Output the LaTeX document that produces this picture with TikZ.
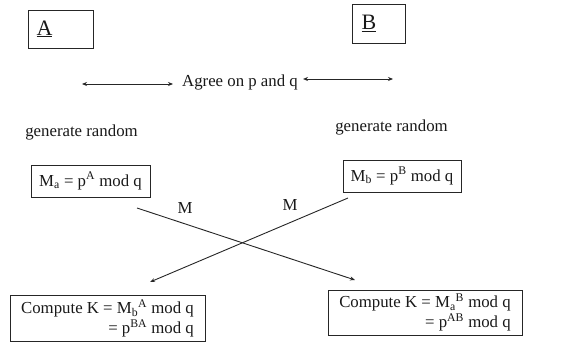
\documentclass[tikz,border=0pt]{standalone}
\usepackage{fontspec}
\setmainfont{Liberation Serif}
\usetikzlibrary{arrows.meta}
\tikzset{
  txt/.style={inner sep=0pt, font=\fontsize{16.8}{19.5}\selectfont, text=black!90},
  boxed/.style={txt, draw=black!85, line width=0.9pt, inner sep=4pt},
  party/.style={boxed, font=\fontsize{22}{24}\selectfont},
  link/.style={draw=black!85, line width=0.9pt},
  tip/.style={-{Stealth[length=5pt,width=4pt]}},
  tips/.style={{Stealth[length=5pt,width=4pt]}-{Stealth[length=5pt,width=4pt]}}
}
\begin{document}
\begin{tikzpicture}[x=1pt,y=-1pt]
  \useasboundingbox[fill=white] (0,0) rectangle (564,350);

  % the two parties
  \node[party, minimum width=65pt, minimum height=38pt] (A) at (60.5,29) {\underline{A}\hspace*{32pt}};
  \node[party, minimum width=53pt, minimum height=39pt] (B) at (378.5,23.5) {\underline{B}\hspace*{19pt}};

  % public parameters
  \node[txt] (agree) at (240,82) {Agree on p and q};
  \coordinate (agreeL1) at (82,84);
  \coordinate (agreeL2) at (173,84);
  \coordinate (agreeR1) at (303,79);
  \coordinate (agreeR2) at (393,79);
  \draw[link, tips] (agreeL1) -- (agreeL2);
  \draw[link, tips] (agreeR1) -- (agreeR2);

  % private values
  \node[txt] (genA) at (81.5,132) {generate random};
  \node[txt] (genB) at (391.5,127) {generate random};

  \node[boxed, minimum width=119pt, minimum height=32pt] (Ma) at (90.5,181)
    {M\textsubscript{a} = p\textsuperscript{A} mod q};
  \node[boxed, minimum width=118pt, minimum height=32pt] (Mb) at (402,176)
    {M\textsubscript{b} = p\textsuperscript{B} mod q};

  % exchanged messages
  \coordinate (sendA) at (137,208);
  \coordinate (recvB) at (355,280);
  \coordinate (sendB) at (348,198);
  \coordinate (recvA) at (150,282);
  \draw[link, tip] (sendA) -- (recvB);
  \draw[link, tip] (sendB) -- (recvA);
  \node[txt] (mA) at (185,208) {M};
  \node[txt] (mB) at (290,205) {M};

  % shared key
  \node[boxed, minimum width=195pt, minimum height=43pt, align=right] (KA) at (107.5,318.5)
    {Compute K = M\textsubscript{b}\textsuperscript{A} mod q\\= p\textsuperscript{BA} mod q};
  \node[boxed, minimum width=194pt, minimum height=41pt, align=right] (KB) at (425,312.5)
    {Compute K = M\textsubscript{a}\textsuperscript{B} mod q\\= p\textsuperscript{AB} mod q};
\end{tikzpicture}
\end{document}
